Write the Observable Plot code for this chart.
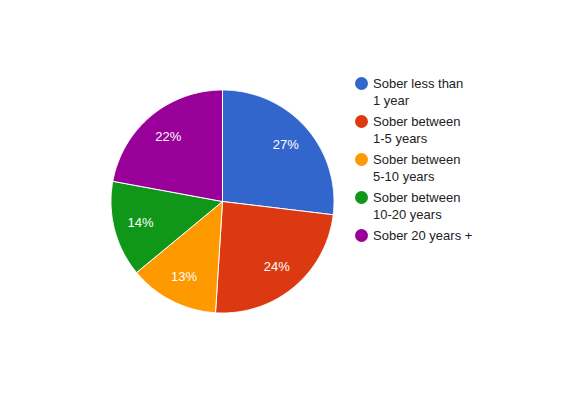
<!DOCTYPE html>
<html>
<head>
<meta charset="utf-8">
<script src="https://cdn.jsdelivr.net/npm/d3@7"></script>
<script src="https://cdn.jsdelivr.net/npm/@observablehq/plot@0.6"></script>
<style>
  html, body { margin: 0; padding: 0; background: #fff; }
  #wrap { position: relative; width: 582px; height: 400px; font-family: Arial, "Liberation Sans", sans-serif; }
  #legend { position: absolute; left: 355px; top: 76px; font-size: 13px; color: #222; }
  .item { display: flex; align-items: flex-start; height: 38px; }
  .sw { width: 13px; height: 13px; border-radius: 50%; margin-top: 1px; margin-right: 5px; flex: none; }
  .lab { line-height: 17px; margin-top: -1px; }
</style>
</head>
<body>
<div id="wrap"></div>
<script>
const categories = ["Sober less than 1 year", "Sober between 1-5 years", "Sober between 5-10 years", "Sober between 10-20 years", "Sober 20 years +"];
const legendLines = [["Sober less than", "1 year"], ["Sober between", "1-5 years"], ["Sober between", "5-10 years"], ["Sober between", "10-20 years"], ["Sober 20 years +"]];
const values = [26.9, 24.1, 13.0, 13.9, 22.1];
const colors = ["#3366cc", "#dc3912", "#ff9900", "#109618", "#990099"];

const total = d3.sum(values);
const arcs = d3.pie().sort(null).value(d => d)(values);

// polygon points for each slice (unit circle, y downward)
const pts = [];
arcs.forEach((a, i) => {
  const n = Math.max(2, Math.ceil((a.endAngle - a.startAngle) / 0.01));
  pts.push({cat: categories[i], x: 0, y: 0});
  for (let k = 0; k <= n; k++) {
    const t = a.startAngle + (a.endAngle - a.startAngle) * k / n;
    pts.push({cat: categories[i], x: Math.sin(t), y: -Math.cos(t)});
  }
  pts.push({cat: categories[i], x: 0, y: 0});
});
const labels = arcs.map((a, i) => {
  const t = (a.startAngle + a.endAngle) / 2;
  return {cat: categories[i], x: 0.76 * Math.sin(t), y: -0.76 * Math.cos(t), text: Math.round(values[i] / total * 100) + "%"};
});

const chart = Plot.plot({
  width: 582,
  height: 400,
  margin: 0,
  x: {domain: [-1, 1], range: [110.5, 333.5], axis: null},
  y: {domain: [-1, 1], range: [89.5, 312.5], axis: null},
  color: {domain: categories, range: colors},
  style: {fontFamily: "Arial, 'Liberation Sans', sans-serif", background: "#fff"},
  marks: [
    Plot.line(pts, {x: "x", y: "y", z: "cat", fill: "cat", stroke: "#fff", strokeWidth: 1, curve: "linear"}),
    Plot.text(labels, {x: "x", y: "y", text: "text", fill: "#fff", fontSize: 13})
  ]
});
const wrap = document.getElementById("wrap");
wrap.appendChild(chart);

const legend = document.createElement("div");
legend.id = "legend";
categories.forEach((c, i) => {
  const item = document.createElement("div");
  item.className = "item";
  const sw = document.createElement("div");
  sw.className = "sw";
  sw.style.background = colors[i];
  const lab = document.createElement("div");
  lab.className = "lab";
  lab.innerHTML = legendLines[i].join("<br>");
  item.appendChild(sw);
  item.appendChild(lab);
  legend.appendChild(item);
});
wrap.appendChild(legend);
</script>
</body>
</html>
